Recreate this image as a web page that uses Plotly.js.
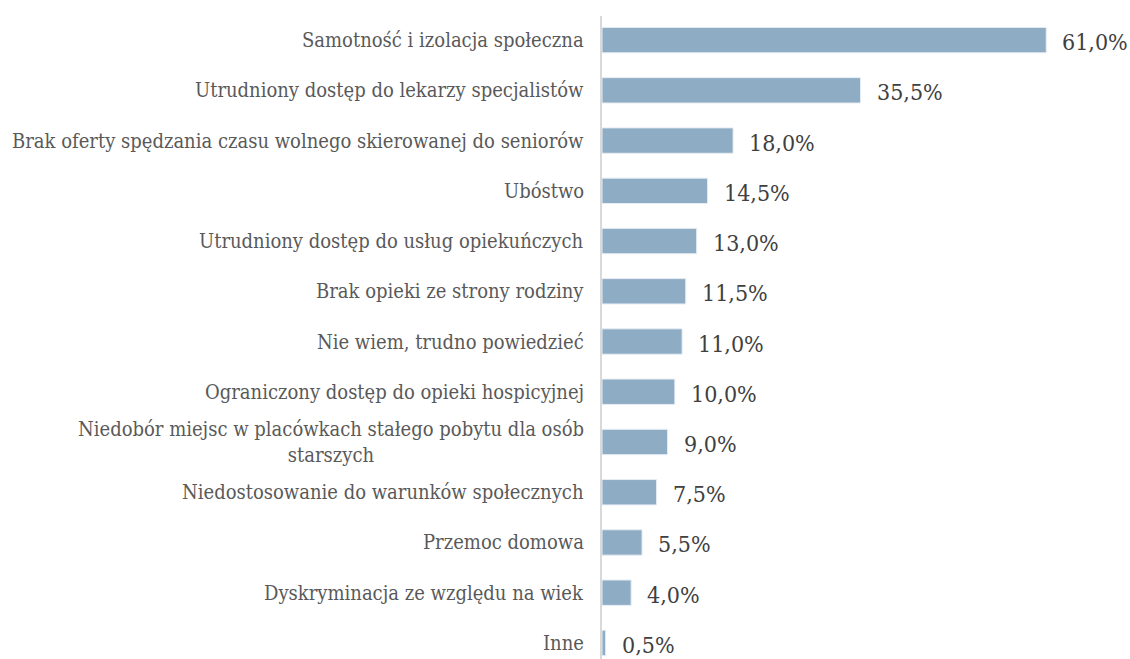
<!DOCTYPE html>
<html><head><meta charset="utf-8">
<script src="https://cdn.plot.ly/plotly-3.0.1.min.js"></script>
<style>html,body{margin:0;padding:0;background:#fff}#chart{width:1130px;height:659px}</style>
</head><body><div id="chart"></div>
<script>
const categories = [
  "Samotność i izolacja społeczna",
  "Utrudniony dostęp do lekarzy specjalistów",
  "Brak oferty spędzania czasu wolnego skierowanej do seniorów",
  "Ubóstwo",
  "Utrudniony dostęp do usług opiekuńczych",
  "Brak opieki ze strony rodziny",
  "Nie wiem, trudno powiedzieć",
  "Ograniczony dostęp do opieki hospicyjnej",
  "Niedobór miejsc w placówkach stałego pobytu dla osób<br>starszych",
  "Niedostosowanie do warunków społecznych",
  "Przemoc domowa",
  "Dyskryminacja ze względu na wiek",
  "Inne"
];
const values = [61.0, 35.5, 18.0, 14.5, 13.0, 11.5, 11.0, 10.0, 9.0, 7.5, 5.5, 4.0, 0.5];

const FONT = "'DejaVu Serif Condensed', 'DejaVu Serif', serif";
const fmt = v => v.toFixed(1).replace('.', ',') + '%';

const annotations = [];
categories.forEach((c, i) => {
  annotations.push({
    xref: 'paper', yref: 'y', x: 0, y: c, xanchor: 'right', yanchor: 'middle',
    xshift: -16, text: c, showarrow: false, align: 'center',
    font: {family: FONT, size: 20, color: '#595959'}
  });
  annotations.push({
    xref: 'x', yref: 'y', x: values[i], y: c, xanchor: 'left', yanchor: 'middle',
    xshift: 14, yshift: -2, text: fmt(values[i]), showarrow: false,
    font: {family: FONT, size: 23, color: '#404040'}
  });
});

const trace = {
  type: 'bar', orientation: 'h',
  x: values, y: categories,
  marker: {color: '#8FACC5', line: {color: '#e6edf3', width: 1}},
  width: 0.505,
  hoverinfo: 'none'
};

const layout = {
  width: 1130, height: 659,
  margin: {l: 602, r: 0, t: 16, b: 0, pad: 0},
  paper_bgcolor: '#fff', plot_bgcolor: '#fff',
  showlegend: false,
  xaxis: {range: [0, 72.5], showgrid: false, zeroline: false, showticklabels: false, showline: false, ticks: ''},
  yaxis: {
    type: 'category', autorange: false, range: [12.32, -0.48],
    showgrid: false, zeroline: false, showticklabels: false, ticks: '',
    showline: true, linecolor: '#d9d9d9', linewidth: 2
  },
  annotations: annotations
};

Plotly.newPlot('chart', [trace], layout, {displayModeBar: false, staticPlot: true});
</script></body></html>
